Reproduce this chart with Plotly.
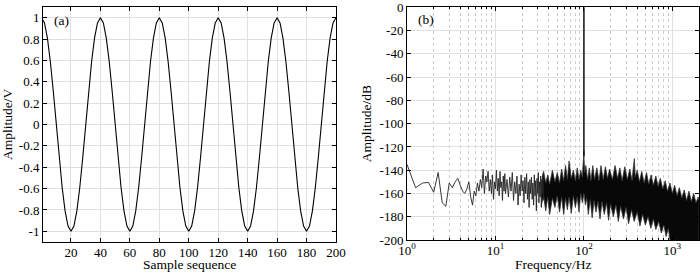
import plotly.graph_objects as go

# ---------------- (a) time-domain signal ----------------
sample_idx = list(range(0, 201, 2))
amplitude_v = [
    1, 0.951, 0.809, 0.588, 0.309, 0, -0.309, -0.588, -0.809, -0.951,
    -1, -0.951, -0.809, -0.588, -0.309, 0, 0.309, 0.588, 0.809, 0.951,
    1, 0.951, 0.809, 0.588, 0.309, 0, -0.309, -0.588, -0.809, -0.951,
    -1, -0.951, -0.809, -0.588, -0.309, 0, 0.309, 0.588, 0.809, 0.951,
    1, 0.951, 0.809, 0.588, 0.309, 0, -0.309, -0.588, -0.809, -0.951,
    -1, -0.951, -0.809, -0.588, -0.309, 0, 0.309, 0.588, 0.809, 0.951,
    1, 0.951, 0.809, 0.588, 0.309, 0, -0.309, -0.588, -0.809, -0.951,
    -1, -0.951, -0.809, -0.588, -0.309, 0, 0.309, 0.588, 0.809, 0.951,
    1, 0.951, 0.809, 0.588, 0.309, 0, -0.309, -0.588, -0.809, -0.951,
    -1, -0.951, -0.809, -0.588, -0.309, 0, 0.309, 0.588, 0.809, 0.951,
    1,
]
a_xticks = [20, 40, 60, 80, 100, 120, 140, 160, 180, 200]
a_yticks = [-1, -0.8, -0.6, -0.4, -0.2, 0, 0.2, 0.4, 0.6, 0.8, 1]
a_yticklabels = ["-1", "-0.8", "-0.6", "-0.4", "-0.2", "0", "0.2", "0.4", "0.6", "0.8", "1"]

# ---------------- (b) spectrum ----------------
# sparse low-frequency part
low_f = [1, 1.25, 1.5, 1.75, 2, 2.25, 2.5, 2.75, 3, 3.25, 3.5, 3.75, 4, 4.25, 4.5, 4.75,
         5, 5.25, 5.5, 5.75, 6, 6.25, 6.5, 6.75, 7, 7.25, 7.5, 7.75, 8, 8.25, 8.5, 8.75,
         9, 9.25, 9.5, 9.75, 10, 10.25, 10.5, 10.75, 11, 11.25, 11.5, 11.75, 12, 12.25,
         12.5, 12.75, 13, 13.5, 14, 14.5, 15, 15.5, 16, 16.5, 17, 17.5, 18, 18.5, 19, 19.5,
         20, 20.5, 21, 21.5, 22, 22.5, 23, 23.5, 24, 24.5, 25, 25.5, 26, 26.5, 27, 27.5,
         28, 28.5, 29, 29.5, 30, 30.5, 31, 31.5, 32, 32.5, 33, 33.5, 34, 34.5, 35]
low_db = [-135, -155, -151, -150.5, -159, -142, -168, -171, -151, -155, -150, -147, -153, -158, -160, -156,
          -150, -163, -170, -158, -162, -151, -158, -148, -155, -139, -160, -145, -150, -141, -158, -148,
          -160, -144, -165, -150, -156, -140, -158, -147, -162, -141, -155, -150, -166, -145,
          -158, -143, -160, -148, -163, -146, -158, -142, -166, -150, -160, -145, -170, -152, -162, -144,
          -158, -149, -168, -146, -160, -143, -165, -150, -172, -148, -160, -146, -165, -151, -170, -144,
          -162, -149, -175, -147, -160, -142, -168, -150, -163, -145, -172, -148, -160, -143, -166]

# dense band: upper (spiky) and lower (spiky) envelopes
upper_f = [33, 35, 37, 39, 41, 44, 47, 50, 53, 56, 59, 62, 65, 68, 72, 76, 80, 84, 88, 92, 96,
           98, 99.5, 100, 100.5, 102, 105, 110, 115, 120, 126, 132, 140, 148, 156, 165, 175, 185,
           195, 210, 225, 240, 255, 270, 290, 310, 330, 350, 365, 372, 380, 400, 425, 450, 480,
           510, 540, 575, 610, 650, 690, 730, 780, 830, 880, 940, 1000, 1060, 1130, 1200, 1280,
           1360, 1450, 1540, 1640, 1740, 1850, 1960, 2000]
upper_db = [-153, -141, -151, -144, -152, -140, -150, -142, -151, -139, -149, -136, -148, -132, -147, -140,
            -149, -138, -148, -140, -146, -135, -130, -123, -131, -142, -136, -148, -138, -149, -136,
            -148, -138, -149, -136, -148, -137, -147, -139, -148, -136, -147, -138, -149, -137, -148,
            -139, -149, -135, -130, -146, -140, -150, -141, -151, -142, -152, -144, -153, -145, -154,
            -147, -156, -149, -158, -151, -160, -153, -162, -155, -164, -157, -166, -158, -167, -160,
            -168, -163, -166]
lower_f = [33, 35, 37, 39, 41, 44, 47, 50, 53, 56, 59, 62, 65, 68, 72, 76, 80, 84, 88, 92, 96,
           100, 104, 108, 112, 118, 124, 130, 137, 144, 152, 160, 170, 180, 190, 200, 215, 230,
           245, 260, 280, 300, 320, 345, 370, 400, 430, 460, 495, 530, 570, 610, 650, 700, 750,
           800, 850, 900, 960, 1000, 2000]
lower_db = [-170, -162, -175, -163, -178, -164, -172, -162, -176, -163, -178, -164, -174, -163, -177, -162,
            -172, -163, -176, -160, -168, -160, -170, -164, -178, -165, -181, -166, -176, -167, -182,
            -167, -178, -168, -183, -169, -180, -170, -184, -171, -182, -172, -186, -174, -184, -176,
            -188, -178, -187, -180, -190, -182, -191, -184, -194, -187, -197, -190, -205, -210, -210]

# the 100 Hz tone
tone_f = [99.75, 100, 100.25]
tone_db = [-128, 0, -128]

b_yticks = [0, -20, -40, -60, -80, -100, -120, -140, -160, -180, -200]
b_yticklabels = ["0", "-20", "-40", "-60", "-80", "-100", "-120", "-140", "-160", "-180", "-200"]
b_xticks = [1, 10, 100, 1000]
b_xticklabels = ["10<sup>0</sup>", "10<sup>1</sup>", "10<sup>2</sup>", "10<sup>3</sup>"]
b_minor = [2, 3, 4, 5, 6, 7, 8, 9, 20, 30, 40, 50, 60, 70, 80, 90,
           200, 300, 400, 500, 600, 700, 800, 900, 2000]

FONT = "Liberation Serif"
FS = 13.5
TFS = 13
GRID = "#e0e0e0"

fig = go.Figure()

fig.add_trace(go.Scatter(x=sample_idx, y=amplitude_v, mode="lines",
                         line=dict(color="black", width=1.1), xaxis="x", yaxis="y",
                         showlegend=False))

band_x = upper_f + lower_f[::-1]
band_y = upper_db + lower_db[::-1]
fig.add_trace(go.Scatter(x=band_x, y=band_y, mode="lines", fill="toself",
                         fillcolor="#080808", line=dict(color="#333333", width=0.8),
                         xaxis="x2", yaxis="y2", showlegend=False))
fig.add_trace(go.Scatter(x=low_f, y=low_db, mode="lines",
                         line=dict(color="#222222", width=0.9), xaxis="x2", yaxis="y2",
                         showlegend=False))
fig.add_trace(go.Scatter(x=tone_f, y=tone_db, mode="lines",
                         line=dict(color="#111111", width=1), xaxis="x2", yaxis="y2",
                         showlegend=False))

axis_common = dict(showline=True, linecolor="black", linewidth=1, mirror="allticks",
                   ticks="inside", ticklen=4, tickcolor="black", tickwidth=1,
                   gridcolor=GRID, gridwidth=1, zeroline=False, automargin=False,
                   ticklabeloverflow="allow",
                   tickfont=dict(family=FONT, size=TFS, color="black"))

title_font = dict(family=FONT, size=FS, color="black")

fig.update_layout(
    width=700, height=274,
    margin=dict(l=43, r=1, t=7, b=32),
    paper_bgcolor="white", plot_bgcolor="white",
    font=dict(family=FONT, size=FS, color="black"),
    xaxis=dict(domain=[0, 0.4466], range=[1, 200], tickvals=a_xticks,
               ticklabelstandoff=-2, anchor="y", **axis_common),
    yaxis=dict(domain=[0, 1], range=[-1.1, 1.1], tickvals=a_yticks, ticktext=a_yticklabels,
               title=dict(text="Amplitude/V", standoff=4, font=title_font),
               anchor="x", **axis_common),
    xaxis2=dict(domain=[0.5549, 1], type="log", range=[0, 3.301],
                tickvals=b_xticks, ticktext=b_xticklabels, ticklabelstandoff=-2,
                minor=dict(tickvals=b_minor, showgrid=True, gridcolor="#cccccc",
                           griddash="dot", ticks="inside", ticklen=2, tickcolor="black"),
                anchor="y2", **axis_common),
    yaxis2=dict(domain=[0.0085, 1], range=[-200, 0.3], tickvals=b_yticks, ticktext=b_yticklabels,
                title=dict(text="Amplitude/dB", standoff=4, font=title_font),
                anchor="x2", **axis_common),
    annotations=[
        dict(text="(a)", xref="x domain", yref="y domain", x=0.03, y=0.985,
             xanchor="left", yanchor="top", showarrow=False, font=title_font),
        dict(text="(b)", xref="x2 domain", yref="y2 domain", x=0.03, y=0.985,
             xanchor="left", yanchor="top", showarrow=False, font=title_font),
        dict(text="Sample sequence", xref="x domain", yref="paper", x=0.5, y=0,
             xanchor="center", yanchor="bottom", yshift=-32, showarrow=False,
             font=title_font),
        dict(text="Frequency/Hz", xref="x2 domain", yref="paper", x=0.5, y=0,
             xanchor="center", yanchor="bottom", yshift=-32, showarrow=False,
             font=title_font),
    ],
)

fig.write_html("out.html", config={"displayModeBar": False},
               post_script="document.body.style.margin='0';document.body.style.overflow='hidden';")
